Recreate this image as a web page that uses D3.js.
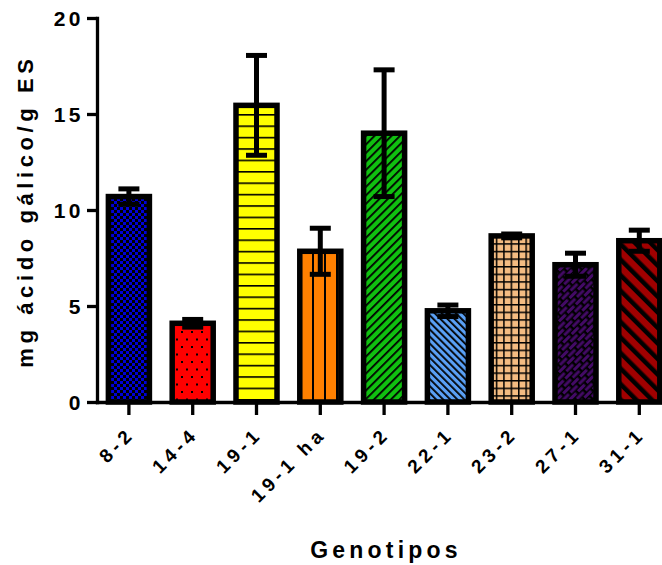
<!DOCTYPE html>
<html>
<head>
<meta charset="utf-8">
<script src="https://cdn.jsdelivr.net/npm/d3@7"></script>
<style>
  html, body { margin: 0; padding: 0; background: #fff; }
  svg { display: block; }
  text { font-family: "Liberation Sans", Arial, sans-serif; font-weight: bold; fill: #000; }
</style>
</head>
<body>
<svg id="chart" width="662" height="565"></svg>
<script>
// Genotypes and their mean phenolic content (mg gallic acid / g ES) with SEM
const genotipos = ["8-2", "14-4", "19-1", "19-1 ha", "19-2", "22-1", "23-2", "27-1", "31-1"];
const medias    = [10.7, 4.1, 15.45, 7.85, 14.0, 4.75, 8.65, 7.15, 8.4];
const erros     = [0.4, 0.2, 2.6, 1.2, 3.3, 0.3, 0.1, 0.6, 0.55];
const yTicks    = [0, 5, 10, 15, 20];

const svg = d3.select("#chart");
const x = d3.scaleBand().domain(genotipos).range([97, 671.2]).paddingInner(0.357).paddingOuter(0.1785);
const y = d3.scaleLinear().domain([0, 20]).range([402, 18]);

// Fill patterns, one per genotype
const defs = svg.append("defs");
function pat(id, w, h, bg, transform) {
  const p = defs.append("pattern").attr("id", id).attr("patternUnits", "userSpaceOnUse")
    .attr("width", w).attr("height", h);
  if (transform) p.attr("patternTransform", transform);
  p.append("rect").attr("width", w).attr("height", h).attr("fill", bg);
  return p;
}
// 8-2: blue checkerboard
let p = pat("p0", 6, 6, "#0000d8");
p.append("rect").attr("width", 3).attr("height", 3).attr("fill", "#000");
p.append("rect").attr("x", 3).attr("y", 3).attr("width", 3).attr("height", 3).attr("fill", "#000");
// 14-4: red with dots
p = pat("p1", 10, 15, "#ff0000");
p.append("rect").attr("x", 1).attr("y", 1).attr("width", 2).attr("height", 2).attr("fill", "#000");
p.append("rect").attr("x", 6).attr("y", 8.5).attr("width", 2).attr("height", 2).attr("fill", "#000");
// 19-1: yellow, horizontal lines
p = pat("p2", 10, 11.4, "#ffff00");
p.append("rect").attr("y", 0).attr("width", 10).attr("height", 1.6).attr("fill", "#000");
// 19-1 ha: orange, vertical lines
p = pat("p3", 12, 10, "#ff8000");
p.append("rect").attr("x", 0).attr("width", 2).attr("height", 10).attr("fill", "#000");
// 19-2: green, "/" hatching
p = pat("p4", 6, 6, "#10c010", "rotate(45)");
p.append("rect").attr("width", 1.8).attr("height", 6).attr("fill", "#000");
// 22-1: light blue, "\" hatching
p = pat("p5", 5, 5, "#5aa0f5", "rotate(-45)");
p.append("rect").attr("width", 1.8).attr("height", 5).attr("fill", "#000");
// 23-2: peach grid
p = pat("p6", 7.4, 7.6, "#f4bc82");
p.append("rect").attr("width", 1.5).attr("height", 7.6).attr("fill", "#000");
p.append("rect").attr("width", 7.4).attr("height", 1.5).attr("fill", "#000");
// 27-1: purple bricks
p = pat("p7", 12, 9, "#000", "rotate(-45)");
p.append("rect").attr("x", 0).attr("y", 0).attr("width", 9.5).attr("height", 3).attr("fill", "#430a66");
p.append("rect").attr("x", 6).attr("y", 4.5).attr("width", 9.5).attr("height", 3).attr("fill", "#430a66");
p.append("rect").attr("x", -6).attr("y", 4.5).attr("width", 9.5).attr("height", 3).attr("fill", "#430a66");
// 31-1: dark red, wide "\" stripes
p = pat("p8", 11, 11, "#a00000", "rotate(-45)");
p.append("rect").attr("width", 4.5).attr("height", 11).attr("fill", "#000");

// Bars
const data = genotipos.map((g, i) => ({ g, m: medias[i], e: erros[i], i }));
svg.append("g").selectAll("rect").data(data).join("rect")
  .attr("x", d => x(d.g))
  .attr("width", x.bandwidth())
  .attr("y", d => y(d.m))
  .attr("height", d => y(0) - y(d.m))
  .attr("fill", d => `url(#p${d.i})`)
  .attr("stroke", "#000")
  .attr("stroke-width", 5.5);

// Error bars (mean ± SEM)
const eb = svg.append("g").attr("stroke", "#000").attr("stroke-width", 5);
data.forEach(d => {
  const cx = x(d.g) + x.bandwidth() / 2;
  eb.append("line").attr("x1", cx).attr("x2", cx).attr("y1", y(d.m + d.e)).attr("y2", y(d.m - d.e));
  [d.m + d.e, d.m - d.e].forEach(v => {
    eb.append("line").attr("x1", cx - 10.5).attr("x2", cx + 10.5).attr("y1", y(v)).attr("y2", y(v));
  });
});

// Axes
const yAxis = svg.append("g").attr("transform", "translate(97,0)")
  .call(d3.axisLeft(y).tickValues(yTicks).tickSize(10).tickSizeOuter(0));
const xAxis = svg.append("g").attr("transform", "translate(0,402)")
  .call(d3.axisBottom(x).tickSize(13).tickSizeOuter(0));
[yAxis, xAxis].forEach(a => {
  a.selectAll("path, line").attr("stroke", "#000").attr("stroke-width", 3.3);
  a.select(".domain").attr("stroke-linecap", "square");
});
yAxis.selectAll("text")
  .style("font-size", "21px").style("letter-spacing", "3.5px")
  .attr("x", -13).attr("dy", "0.36em");
xAxis.selectAll("text")
  .style("font-size", "19px").style("letter-spacing", "4.5px")
  .attr("text-anchor", "end").attr("x", 0).attr("y", 0).attr("dy", 0)
  .attr("transform", "translate(7,33) rotate(-45)");

// Axis titles
svg.append("text")
  .attr("transform", "translate(33,211) rotate(-90)")
  .attr("text-anchor", "middle")
  .style("font-size", "22px").style("letter-spacing", "4.6px")
  .text("mg ácido gálico/g ES");
svg.append("text")
  .attr("x", 386).attr("y", 558)
  .attr("text-anchor", "middle")
  .style("font-size", "23px").style("letter-spacing", "4.2px")
  .text("Genotipos");
</script>
</body>
</html>
